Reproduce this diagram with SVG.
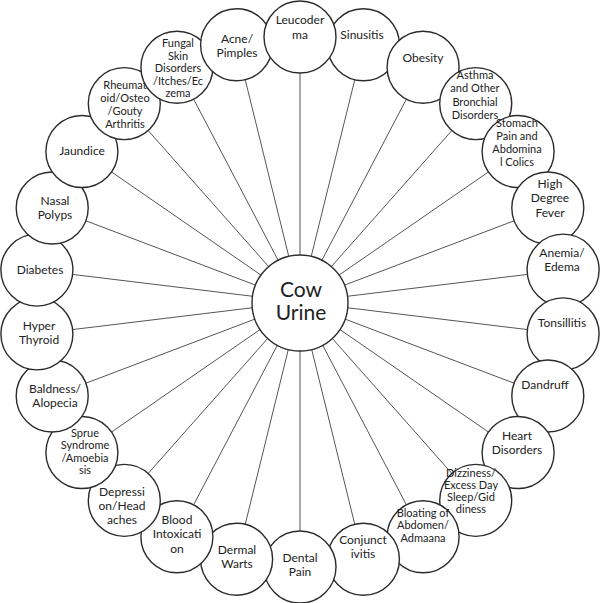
<svg xmlns="http://www.w3.org/2000/svg" width="600" height="603" viewBox="0 0 600 603">
<style>
.bg{fill:#ffffff}
.spoke{stroke:#555555;stroke-width:1;fill:none}
.node circle{fill:#ffffff;stroke:#2b2b2b;stroke-width:1.4}
.node text{font-family:Lato,"Open Sans","Liberation Sans",sans-serif;font-size:12px;fill:#222222;text-anchor:middle}
.node text.s{font-size:11px}
#center text{font-size:21px}
</style>
<rect class="bg" x="0" y="0" width="600" height="603"/>
<g id="connectors">
<line class="spoke" x1="300" y1="302" x2="300" y2="37"/>
<line class="spoke" x1="300" y1="302" x2="363.4" y2="44.7"/>
<line class="spoke" x1="300" y1="302" x2="423.1" y2="67.3"/>
<line class="spoke" x1="300" y1="302" x2="475.7" y2="103.6"/>
<line class="spoke" x1="300" y1="302" x2="518.1" y2="151.5"/>
<line class="spoke" x1="300" y1="302" x2="547.8" y2="208"/>
<line class="spoke" x1="300" y1="302" x2="563.1" y2="270.1"/>
<line class="spoke" x1="300" y1="302" x2="563.1" y2="333.9"/>
<line class="spoke" x1="300" y1="302" x2="547.8" y2="396"/>
<line class="spoke" x1="300" y1="302" x2="518.1" y2="452.5"/>
<line class="spoke" x1="300" y1="302" x2="475.7" y2="500.4"/>
<line class="spoke" x1="300" y1="302" x2="423.1" y2="536.7"/>
<line class="spoke" x1="300" y1="302" x2="363.4" y2="559.3"/>
<line class="spoke" x1="300" y1="302" x2="300" y2="567"/>
<line class="spoke" x1="300" y1="302" x2="236.6" y2="559.3"/>
<line class="spoke" x1="300" y1="302" x2="176.9" y2="536.7"/>
<line class="spoke" x1="300" y1="302" x2="124.3" y2="500.4"/>
<line class="spoke" x1="300" y1="302" x2="81.9" y2="452.5"/>
<line class="spoke" x1="300" y1="302" x2="52.2" y2="396"/>
<line class="spoke" x1="300" y1="302" x2="36.9" y2="333.9"/>
<line class="spoke" x1="300" y1="302" x2="36.9" y2="270.1"/>
<line class="spoke" x1="300" y1="302" x2="52.2" y2="208"/>
<line class="spoke" x1="300" y1="302" x2="81.9" y2="151.5"/>
<line class="spoke" x1="300" y1="302" x2="124.3" y2="103.6"/>
<line class="spoke" x1="300" y1="302" x2="176.9" y2="67.3"/>
<line class="spoke" x1="300" y1="302" x2="236.6" y2="44.7"/>
</g>
<g id="n-sinusitis" class="node"><circle cx="363.4" cy="44.7" r="36"/><text x="362" y="39">Sinusitis</text></g>
<g id="n-obesity" class="node"><circle cx="423.1" cy="67.3" r="36"/><text x="423" y="62">Obesity</text></g>
<g id="n-asthma" class="node"><circle cx="475.7" cy="103.6" r="36"/><text class="s" x="475"><tspan x="475" y="79">Asthma</tspan><tspan x="475" y="92">and Other</tspan><tspan x="475" y="105.5">Bronchial</tspan><tspan x="475" y="119">Disorders</tspan></text></g>
<g id="n-stomach" class="node"><circle cx="518.1" cy="151.5" r="36"/><text class="s" x="517"><tspan x="517" y="127">Stomach</tspan><tspan x="517" y="140">Pain and</tspan><tspan x="517" y="153">Abdomina</tspan><tspan x="517" y="166">l Colics</tspan></text></g>
<g id="n-fever" class="node"><circle cx="547.8" cy="208" r="36"/><text x="550"><tspan x="550" y="188">High</tspan><tspan x="550" y="202">Degree</tspan><tspan x="550" y="216.5">Fever</tspan></text></g>
<g id="n-anemia" class="node"><circle cx="563.1" cy="270.1" r="36"/><text x="562"><tspan x="562" y="257">Anemia/</tspan><tspan x="562" y="271">Edema</tspan></text></g>
<g id="n-tonsillitis" class="node"><circle cx="563.1" cy="333.9" r="36"/><text x="562" y="327">Tonsillitis</text></g>
<g id="n-dandruff" class="node"><circle cx="547.8" cy="396" r="36"/><text x="545" y="389">Dandruff</text></g>
<g id="n-heart" class="node"><circle cx="518.1" cy="452.5" r="36"/><text x="517"><tspan x="517" y="439.5">Heart</tspan><tspan x="517" y="453.5">Disorders</tspan></text></g>
<g id="n-dizziness" class="node"><circle cx="475.7" cy="500.4" r="36"/><text class="s" x="471"><tspan x="471" y="476.5">Dizziness/</tspan><tspan x="471" y="488.5">Excess Day</tspan><tspan x="471" y="500.5">Sleep/Gid</tspan><tspan x="471" y="512.5">diness</tspan></text></g>
<g id="n-bloating" class="node"><circle cx="423.1" cy="536.7" r="36"/><text class="s" x="423"><tspan x="423" y="516.5">Bloating of</tspan><tspan x="423" y="529">Abdomen/</tspan><tspan x="423" y="541.5">Admaana</tspan></text></g>
<g id="n-conjunctivitis" class="node"><circle cx="363.4" cy="559.3" r="36"/><text x="363"><tspan x="363" y="543.5">Conjunct</tspan><tspan x="363" y="557.5">ivitis</tspan></text></g>
<g id="n-dental" class="node"><circle cx="300" cy="567" r="36"/><text x="300"><tspan x="300" y="562">Dental</tspan><tspan x="300" y="576">Pain</tspan></text></g>
<g id="n-dermal" class="node"><circle cx="236.6" cy="559.3" r="36"/><text x="237"><tspan x="237" y="554">Dermal</tspan><tspan x="237" y="568">Warts</tspan></text></g>
<g id="n-blood" class="node"><circle cx="176.9" cy="536.7" r="36"/><text x="177"><tspan x="177" y="524">Blood</tspan><tspan x="177" y="538">Intoxicati</tspan><tspan x="177" y="553">on</tspan></text></g>
<g id="n-depression" class="node"><circle cx="124.3" cy="500.4" r="36"/><text x="122"><tspan x="122" y="496">Depressi</tspan><tspan x="122" y="510">on/Head</tspan><tspan x="122" y="524">aches</tspan></text></g>
<g id="n-sprue" class="node"><circle cx="81.9" cy="452.5" r="36"/><text class="s" x="85"><tspan x="85" y="436.5">Sprue</tspan><tspan x="85" y="449">Syndrome</tspan><tspan x="85" y="461.5">/Amoebia</tspan><tspan x="85" y="474">sis</tspan></text></g>
<g id="n-baldness" class="node"><circle cx="52.2" cy="396" r="36"/><text x="55"><tspan x="55" y="392.5">Baldness/</tspan><tspan x="55" y="406.5">Alopecia</tspan></text></g>
<g id="n-hyper" class="node"><circle cx="36.9" cy="333.9" r="36"/><text x="39"><tspan x="39" y="330">Hyper</tspan><tspan x="39" y="344">Thyroid</tspan></text></g>
<g id="n-diabetes" class="node"><circle cx="36.9" cy="270.1" r="36"/><text x="40" y="274">Diabetes</text></g>
<g id="n-nasal" class="node"><circle cx="52.2" cy="208" r="36"/><text x="55"><tspan x="55" y="205">Nasal</tspan><tspan x="55" y="219">Polyps</tspan></text></g>
<g id="n-jaundice" class="node"><circle cx="81.9" cy="151.5" r="36"/><text x="82" y="155">Jaundice</text></g>
<g id="n-rheumatoid" class="node"><circle cx="124.3" cy="103.6" r="36"/><text class="s" x="125"><tspan x="125" y="89">Rheumat</tspan><tspan x="125" y="102">oid/Osteo</tspan><tspan x="125" y="115">/Gouty</tspan><tspan x="125" y="128">Arthritis</tspan></text></g>
<g id="n-fungal" class="node"><circle cx="176.9" cy="67.3" r="36"/><text class="s" x="178"><tspan x="178" y="47">Fungal</tspan><tspan x="178" y="59.5">Skin</tspan><tspan x="178" y="72">Disorders</tspan><tspan x="178" y="84.5">/Itches/Ec</tspan><tspan x="178" y="97">zema</tspan></text></g>
<g id="n-acne" class="node"><circle cx="236.6" cy="44.7" r="36"/><text x="237"><tspan x="237" y="43">Acne/</tspan><tspan x="237" y="57">Pimples</tspan></text></g>
<g id="n-leucoderma" class="node"><circle cx="300" cy="37" r="36"/><text x="300"><tspan x="300" y="24">Leucoder</tspan><tspan x="300" y="39">ma</tspan></text></g>
<g id="center" class="node"><circle cx="300" cy="303" r="48"/><text x="301"><tspan x="301" y="297">Cow</tspan><tspan x="301" y="320">Urine</tspan></text></g>
</svg>
